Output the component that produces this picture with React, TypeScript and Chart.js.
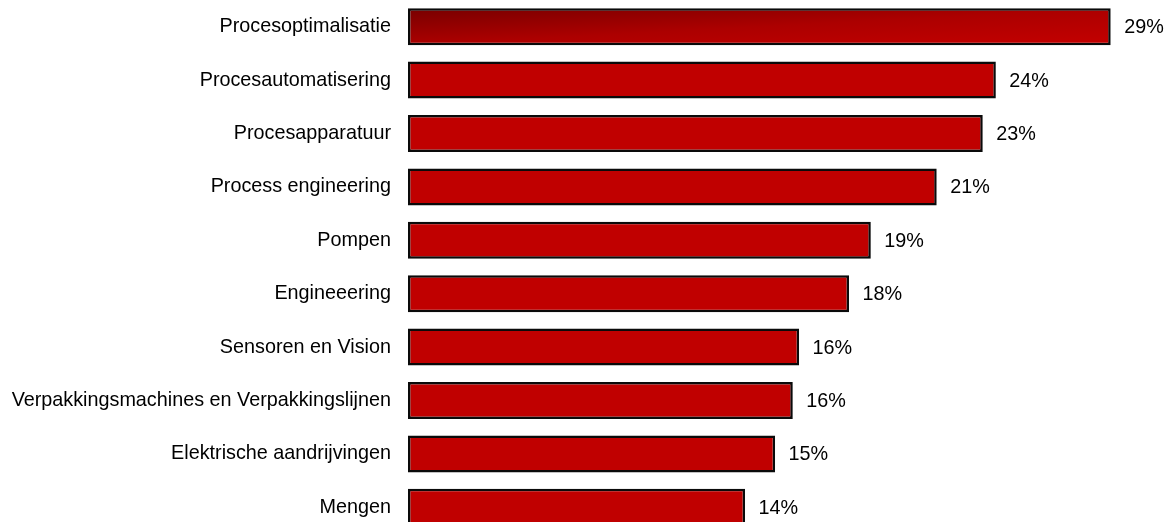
import React, { useEffect, useRef } from "react";
import { Chart, registerables } from "chart.js";

Chart.register(...registerables);

const categories = [
  "Procesoptimalisatie",
  "Procesautomatisering",
  "Procesapparatuur",
  "Process engineering",
  "Pompen",
  "Engineeering",
  "Sensoren en Vision",
  "Verpakkingsmachines en Verpakkingslijnen",
  "Elektrische aandrijvingen",
  "Mengen",
];

const values = [29.0, 24.26, 23.72, 21.82, 19.1, 18.2, 16.14, 15.88, 15.15, 13.91];

const valueLabels = ["29%", "24%", "23%", "21%", "19%", "18%", "16%", "16%", "15%", "14%"];

const FONT = "'Liberation Sans', Arial, Helvetica, sans-serif";
const FONT_SIZE = 19.8;
const BAR_PCT = 0.693;
const BAR_COLOR = "#c00000";

export default function App() {
  const canvasRef = useRef<HTMLCanvasElement | null>(null);

  useEffect(() => {
    const canvas = canvasRef.current;
    if (!canvas) return;

    const valueLabelPlugin = {
      id: "valueLabels",
      afterDatasetsDraw(chart: any) {
        const meta = chart.getDatasetMeta(0);
        const ctx = chart.ctx;
        ctx.save();
        ctx.font = `${FONT_SIZE}px ${FONT}`;
        ctx.fillStyle = "#000000";
        ctx.textAlign = "left";
        ctx.textBaseline = "middle";
        meta.data.forEach((el: any, i: number) => {
          ctx.fillText(valueLabels[i], el.x + 13.5, el.y + 1);
        });
        ctx.restore();
      },
    };

    const chart = new Chart(canvas, {
      type: "bar",
      data: {
        labels: categories,
        datasets: [
          {
            data: values,
            backgroundColor: (c: any) => {
              if (c.dataIndex !== 0) return BAR_COLOR;
              const ch = c.chart;
              const xs = ch.scales?.x;
              const ys = ch.scales?.y;
              const area = ch.chartArea;
              if (!xs || !ys || !area) return BAR_COLOR;
              const x0 = xs.getPixelForValue(0);
              const x1 = xs.getPixelForValue(values[0]);
              const yc = ys.getPixelForValue(0);
              const h = (area.height / categories.length) * BAR_PCT;
              const top = yc - h / 2;
              const w = Math.max(1, x1 - x0);
              const ax = 1 / (2 * w);
              const ay = 1 / (2 * h);
              const n2 = ax * ax + ay * ay;
              const g = ch.ctx.createLinearGradient(x0, top, x0 + ax / n2, top + ay / n2);
              g.addColorStop(0, "#780000");
              g.addColorStop(0.5, "#ac0000");
              g.addColorStop(1, "#c40000");
              return g;
            },
            borderColor: "#0a0a0a",
            borderWidth: 2.5,
            borderSkipped: false,
            barPercentage: BAR_PCT,
            categoryPercentage: 1,
          },
        ],
      },
      options: {
        indexAxis: "y",
        responsive: false,
        animation: false,
        devicePixelRatio: 1,
        layout: { padding: 0 },
        plugins: {
          legend: { display: false },
          tooltip: { enabled: false },
        },
        scales: {
          x: {
            display: false,
            min: 0,
            max: 31.53,
          },
          y: {
            afterFit: (scale: any) => {
              scale.width = 408;
              scale.paddingTop = 0;
              scale.paddingBottom = 0;
            },
            grid: { display: false, drawTicks: false },
            border: { display: false },
            ticks: {
              color: "#000000",
              padding: 17,
              autoSkip: false,
              font: { family: FONT, size: FONT_SIZE },
            },
          },
        },
      },
      plugins: [valueLabelPlugin],
    } as any);

    return () => {
      chart.destroy();
    };
  }, []);

  return (
    <div
      style={{
        position: "absolute",
        left: 0,
        top: 0,
        width: 1172,
        height: 522,
        overflow: "hidden",
        background: "#ffffff",
      }}
    >
      <canvas ref={canvasRef} width={1172} height={534} style={{ display: "block" }} />
    </div>
  );
}
